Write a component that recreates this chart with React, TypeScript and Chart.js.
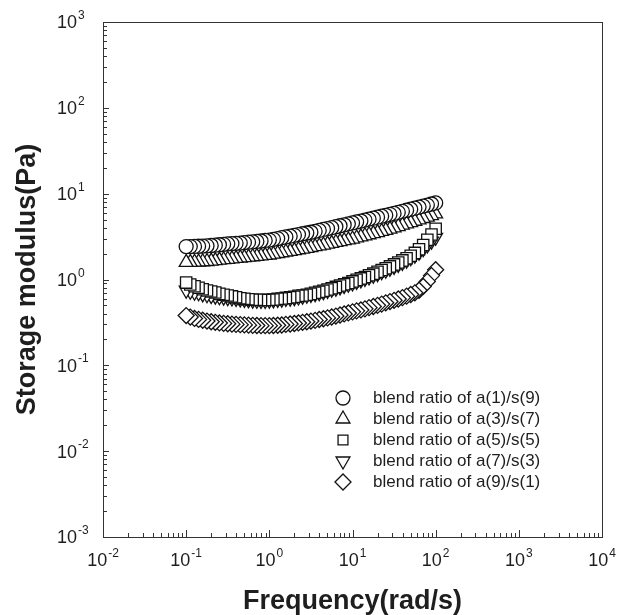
import { useEffect, useRef } from 'react';
import { Chart, registerables } from 'chart.js';
import { drawPoint } from 'chart.js/helpers';

Chart.register(...registerables);

// Frequency (rad/s)
const frequency = [
  0.1, 0.112, 0.126, 0.141, 0.158, 0.178, 0.2, 0.224, 0.251, 0.282,
  0.316, 0.355, 0.398, 0.447, 0.501, 0.562, 0.631, 0.708, 0.794, 0.891,
  1, 1.12, 1.26, 1.41, 1.58, 1.78, 2, 2.24, 2.51, 2.82,
  3.16, 3.55, 3.98, 4.47, 5.01, 5.62, 6.31, 7.08, 7.94, 8.91,
  10, 11.2, 12.6, 14.1, 15.8, 17.8, 20, 22.4, 25.1, 28.2,
  31.6, 35.5, 39.8, 44.7, 50.1, 56.2, 63.1, 70.8, 79.4, 89.1,
  100,
];

// Storage modulus (Pa)
const a1s9 = [
  2.42, 2.42, 2.43, 2.44, 2.45, 2.47, 2.49, 2.51, 2.54, 2.57,
  2.6, 2.62, 2.64, 2.66, 2.69, 2.72, 2.75, 2.78, 2.81, 2.85,
  2.88, 2.94, 3.0, 3.07, 3.13, 3.2, 3.27, 3.34, 3.41, 3.48,
  3.55, 3.64, 3.73, 3.83, 3.92, 4.02, 4.12, 4.23, 4.34, 4.45,
  4.56, 4.68, 4.8, 4.92, 5.05, 5.18, 5.32, 5.46, 5.6, 5.74,
  5.89, 6.06, 6.23, 6.41, 6.59, 6.78, 6.97, 7.17, 7.37, 7.58,
  7.8,
];
const a3s7 = [
  1.58, 1.58, 1.59, 1.6, 1.61, 1.62, 1.64, 1.66, 1.68, 1.7,
  1.72, 1.74, 1.76, 1.78, 1.8, 1.82, 1.84, 1.86, 1.88, 1.91,
  1.93, 1.97, 2.01, 2.05, 2.09, 2.13, 2.17, 2.22, 2.26, 2.31,
  2.36, 2.41, 2.46, 2.52, 2.58, 2.64, 2.7, 2.76, 2.83, 2.89,
  2.96, 3.05, 3.14, 3.23, 3.32, 3.42, 3.52, 3.63, 3.74, 3.86,
  4.0, 4.14, 4.29, 4.44, 4.6, 4.77, 4.95, 5.14, 5.34, 5.56,
  5.8,
];
const a5s5 = [
  0.92, 0.875, 0.835, 0.8, 0.77, 0.745, 0.725, 0.705, 0.68, 0.665,
  0.65, 0.635, 0.62, 0.605, 0.595, 0.588, 0.58, 0.58, 0.578, 0.578,
  0.58, 0.585, 0.595, 0.6, 0.61, 0.62, 0.63, 0.645, 0.65, 0.665,
  0.68, 0.7, 0.72, 0.74, 0.765, 0.79, 0.82, 0.85, 0.88, 0.91,
  0.95, 0.99, 1.03, 1.07, 1.12, 1.17, 1.23, 1.29, 1.35, 1.42,
  1.5, 1.58, 1.67, 1.77, 1.89, 2.04, 2.25, 2.52, 2.9, 3.35,
  3.9,
];
const a7s3 = [
  0.75, 0.73, 0.71, 0.7, 0.68, 0.665, 0.65, 0.64, 0.63, 0.622,
  0.615, 0.608, 0.6, 0.593, 0.585, 0.58, 0.575, 0.572, 0.57, 0.57,
  0.575, 0.578, 0.585, 0.59, 0.6, 0.607, 0.615, 0.625, 0.64, 0.655,
  0.67, 0.685, 0.7, 0.72, 0.745, 0.77, 0.79, 0.82, 0.85, 0.88,
  0.91, 0.95, 0.99, 1.03, 1.07, 1.12, 1.17, 1.23, 1.28, 1.35,
  1.42, 1.5, 1.58, 1.68, 1.79, 1.92, 2.08, 2.28, 2.52, 2.8,
  3.1,
];
const a9s1 = [
  0.38, 0.365, 0.352, 0.343, 0.335, 0.328, 0.322, 0.317, 0.312, 0.308,
  0.305, 0.302, 0.3, 0.298, 0.296, 0.294, 0.292, 0.291, 0.29, 0.29,
  0.29, 0.291, 0.293, 0.295, 0.3, 0.303, 0.307, 0.312, 0.317, 0.322,
  0.328, 0.334, 0.342, 0.349, 0.357, 0.366, 0.375, 0.386, 0.397, 0.408,
  0.42, 0.431, 0.442, 0.455, 0.47, 0.485, 0.5, 0.517, 0.535, 0.553,
  0.572, 0.592, 0.615, 0.64, 0.668, 0.7, 0.75, 0.83, 0.95, 1.11,
  1.3,
];

const seriesLabels = [
  'blend ratio of a(1)/s(9)',
  'blend ratio of a(3)/s(7)',
  'blend ratio of a(5)/s(5)',
  'blend ratio of a(7)/s(3)',
  'blend ratio of a(9)/s(1)',
];
const seriesValues = [a1s9, a3s7, a5s5, a7s3, a9s1];
const seriesStyles = ['circle', 'triangle', 'rect', 'triangle', 'rectRot'];
const seriesRotations = [0, 0, 0, 180, 0];
const seriesRadii = [7, 8, 8, 8, 8];

const xTickExponents = [-2, -1, 0, 1, 2, 3, 4];
const yTickExponents = [-3, -2, -1, 0, 1, 2, 3];

const xTitle = 'Frequency(rad/s)';
const yTitle = 'Storage modulus(Pa)';

const FONT = '"Liberation Sans", Arial, Helvetica, sans-serif';
const INK = '#1e1e1e';

function drawPow(ctx: CanvasRenderingContext2D, exp: number, x: number, yMid: number, align: 'center' | 'left') {
  const base = '10';
  const sup = exp < 0 ? '-' + Math.abs(exp) : String(exp);
  ctx.font = `18px ${FONT}`;
  const wb = ctx.measureText(base).width;
  ctx.font = `12px ${FONT}`;
  const ws = ctx.measureText(sup).width;
  const total = wb + ws + 1;
  const x0 = align === 'center' ? x - total / 2 : x;
  ctx.textAlign = 'left';
  ctx.textBaseline = 'alphabetic';
  ctx.font = `18px ${FONT}`;
  ctx.fillText(base, x0, yMid + 6.4);
  ctx.font = `12px ${FONT}`;
  ctx.fillText(sup, x0 + wb + 1, yMid - 3);
}

const framePlugin = {
  id: 'framePlugin',
  beforeDatasetsDraw(chart: any) {
    const { ctx, chartArea: a, scales } = chart;
    const xs = scales.x;
    const ys = scales.y;
    ctx.save();
    ctx.strokeStyle = '#333';
    ctx.lineWidth = 1;
    ctx.strokeRect(Math.round(a.left) + 0.5, Math.round(a.top) + 0.5, Math.round(a.right - a.left), Math.round(a.bottom - a.top));

    ctx.beginPath();
    xTickExponents.forEach((d, i) => {
      const px = Math.round(xs.getPixelForValue(Math.pow(10, d))) + 0.5;
      ctx.moveTo(px, a.bottom);
      ctx.lineTo(px, a.bottom - 7);
      if (i < xTickExponents.length - 1) {
        for (let m = 2; m <= 9; m++) {
          const q = Math.round(xs.getPixelForValue(m * Math.pow(10, d))) + 0.5;
          ctx.moveTo(q, a.bottom);
          ctx.lineTo(q, a.bottom - 4);
        }
      }
    });
    yTickExponents.forEach((d, i) => {
      const py = Math.round(ys.getPixelForValue(Math.pow(10, d))) + 0.5;
      ctx.moveTo(a.left, py);
      ctx.lineTo(a.left + 6, py);
      if (i < yTickExponents.length - 1) {
        for (let m = 2; m <= 9; m++) {
          const q = Math.round(ys.getPixelForValue(m * Math.pow(10, d))) + 0.5;
          ctx.moveTo(a.left, q);
          ctx.lineTo(a.left + 4, q);
        }
      }
    });
    ctx.stroke();

    ctx.fillStyle = INK;
    xTickExponents.forEach((d) => {
      drawPow(ctx, d, xs.getPixelForValue(Math.pow(10, d)), a.bottom + 23, 'center');
    });
    yTickExponents.forEach((d) => {
      drawPow(ctx, d, 57, ys.getPixelForValue(Math.pow(10, d)), 'left');
    });

    ctx.font = `bold 27px ${FONT}`;
    ctx.textAlign = 'center';
    ctx.textBaseline = 'alphabetic';
    ctx.fillText(xTitle, (a.left + a.right) / 2, 609);
    ctx.save();
    ctx.translate(35, (a.top + a.bottom) / 2);
    ctx.rotate(-Math.PI / 2);
    ctx.fillText(yTitle, 0, 0);
    ctx.restore();
    ctx.restore();
  },
  afterDraw(chart: any) {
    const { ctx } = chart;
    ctx.save();
    chart.data.datasets.forEach((ds: any, i: number) => {
      const y = 398 + i * 21;
      ctx.strokeStyle = '#111';
      ctx.fillStyle = '#fff';
      ctx.lineWidth = 1.3;
      const r = ds.pointStyle === 'rect' ? 7 : ds.pointRadius;
      drawPoint(ctx, { pointStyle: ds.pointStyle, rotation: ds.pointRotation, radius: r, borderWidth: 1.3 }, 343, y);
      ctx.fillStyle = INK;
      ctx.font = `17px ${FONT}`;
      ctx.textAlign = 'left';
      ctx.textBaseline = 'middle';
      ctx.fillText(ds.label, 373, y);
    });
    ctx.restore();
  },
};

export default function App() {
  const ref = useRef<HTMLCanvasElement | null>(null);
  useEffect(() => {
    if (!ref.current) return;
    const datasets = seriesLabels.map((label, s) => ({
      label,
      data: frequency.map((x, i) => ({ x, y: seriesValues[s][i] })).reverse(),
      showLine: false,
      pointStyle: seriesStyles[s],
      pointRotation: seriesRotations[s],
      pointRadius: seriesRadii[s],
      pointHoverRadius: seriesRadii[s],
      pointBorderWidth: 1.3,
      pointBackgroundColor: '#ffffff',
      pointBorderColor: '#111111',
      backgroundColor: '#ffffff',
      borderColor: '#111111',
    }));
    const chart = new Chart(ref.current, {
      type: 'scatter',
      data: { datasets } as any,
      options: {
        animation: false,
        responsive: false,
        events: [],
        layout: { padding: { left: 103, top: 22, right: 16, bottom: 78 } },
        plugins: { legend: { display: false }, tooltip: { enabled: false } },
        scales: {
          x: { type: 'logarithmic', min: 0.01, max: 10000, display: false },
          y: { type: 'logarithmic', min: 0.001, max: 1000, display: false },
        },
      } as any,
      plugins: [framePlugin],
    });
    return () => chart.destroy();
  }, []);
  return (
    <div style={{ position: 'fixed', left: 0, top: 0, width: 618, height: 615, background: '#fff' }}>
      <canvas ref={ref} width={618} height={615} style={{ display: 'block', width: 618, height: 615 }} />
    </div>
  );
}
